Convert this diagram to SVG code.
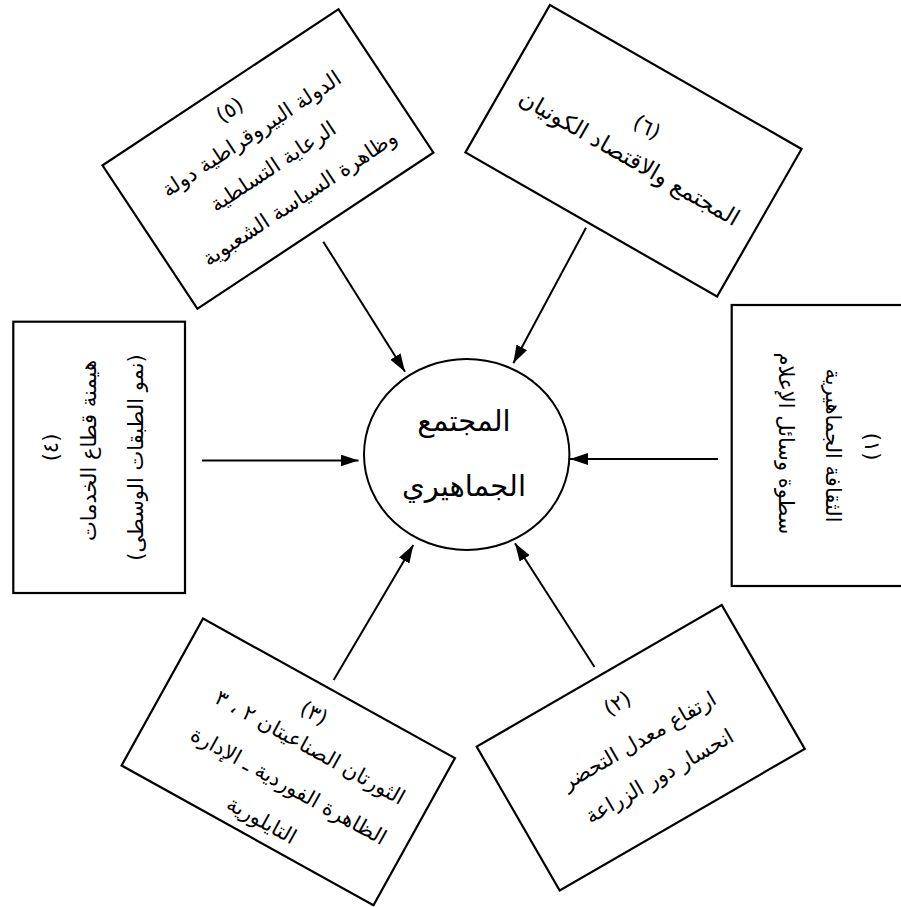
<svg xmlns="http://www.w3.org/2000/svg" width="901" height="907" viewBox="0 0 901 907">
<defs>
<style>
.box{fill:#fff;stroke:#000;stroke-width:2.2}
.t{font-family:"DejaVu Sans",sans-serif;font-size:21px;fill:#000;text-anchor:middle;direction:rtl}
.c{font-family:"DejaVu Sans",sans-serif;font-size:29px;fill:#000;text-anchor:middle;direction:rtl}
.ln{stroke:#000;stroke-width:2;fill:none;marker-end:url(#ah)}
</style>
<marker id="ah" markerUnits="userSpaceOnUse" markerWidth="20" markerHeight="14" refX="18" refY="6" orient="auto">
<path d="M0,0 L18,6 L0,12 z" fill="#000"/>
</marker>
</defs>
<rect width="901" height="907" fill="#fff"/>

<g id="connectors">
<line class="ln" x1="323.3" y1="241.7" x2="405" y2="371.7"/>
<line class="ln" x1="586" y1="227.7" x2="513.3" y2="363.3"/>
<line class="ln" x1="718" y1="459" x2="570" y2="459"/>
<line class="ln" x1="202" y1="460.5" x2="358.5" y2="460.5"/>
<line class="ln" x1="333.7" y1="680" x2="413.3" y2="545"/>
<line class="ln" x1="594.5" y1="667" x2="515" y2="543.3"/>
</g>

<g id="center">
<ellipse cx="466.7" cy="454.5" rx="102.7" ry="95.5" fill="#fff" stroke="#000" stroke-width="2"/>
<text class="c" x="464" y="431">المجتمع</text>
<text class="c" x="464" y="496">الجماهيري</text>
</g>

<g id="node1">
<rect class="box" x="731.7" y="305" width="172" height="281"/>
<g transform="translate(817.7,445.5) rotate(90)">
<text class="t" x="1" y="-47">(١)</text>
<text class="t" x="0" y="-8">الثقافة الجماهيرية</text>
<text class="t" x="-2" y="39">سطوة وسائل الإعلام</text>
</g>
</g>

<g id="node2">
<g transform="translate(640.7,747.75) rotate(-30)">
<rect class="box" x="-141.5" y="-83" width="283" height="166"/>
<text class="t" x="2" y="-43">(٢)</text>
<text class="t" x="2" y="0">ارتفاع معدل التحضر</text>
<text class="t" x="2" y="41">انحسار دور الزراعة</text>
</g>
</g>

<g id="node3">
<g transform="translate(288.25,761.85) rotate(29)">
<rect class="box" x="-144" y="-84" width="288" height="168"/>
<text class="t" x="-1" y="-48">(٣)</text>
<text class="t" x="12" y="-16">الثورتان الصناعيتان ٢ ، ٣</text>
<text class="t" x="12" y="28">الظاهرة الفوردية ـ الإدارة</text>
<text class="t" x="5" y="71">التايلورية</text>
</g>
</g>

<g id="node4">
<rect class="box" x="13.3" y="321.7" width="171.7" height="271.3"/>
<g transform="translate(99,457.5) rotate(-90)">
<text class="t" x="10" y="-41">(٤)</text>
<text class="t" x="7" y="-3">هيمنة قطاع الخدمات</text>
<text class="t" x="0" y="44">(نمو الطبقات الوسطى)</text>
</g>
</g>

<g id="node5">
<g transform="translate(267.95,159) rotate(-33.5)">
<rect class="box" x="-141.5" y="-86" width="283" height="172"/>
<text class="t" x="-5" y="-55">(٥)</text>
<text class="t" x="0" y="-23">الدولة البيروقراطية دولة</text>
<text class="t" x="0" y="16">الرعاية التسلطية</text>
<text class="t" x="5" y="57">وظاهرة السياسة الشعبوية</text>
</g>
</g>

<g id="node6">
<g transform="translate(633.5,150.7) rotate(29.8)">
<rect class="box" x="-145" y="-85" width="290" height="170"/>
<text class="t" x="0" y="-20">(٦)</text>
<text class="t" x="0" y="16" style="font-size:23px">المجتمع والاقتصاد الكونيان</text>
</g>
</g>
</svg>
